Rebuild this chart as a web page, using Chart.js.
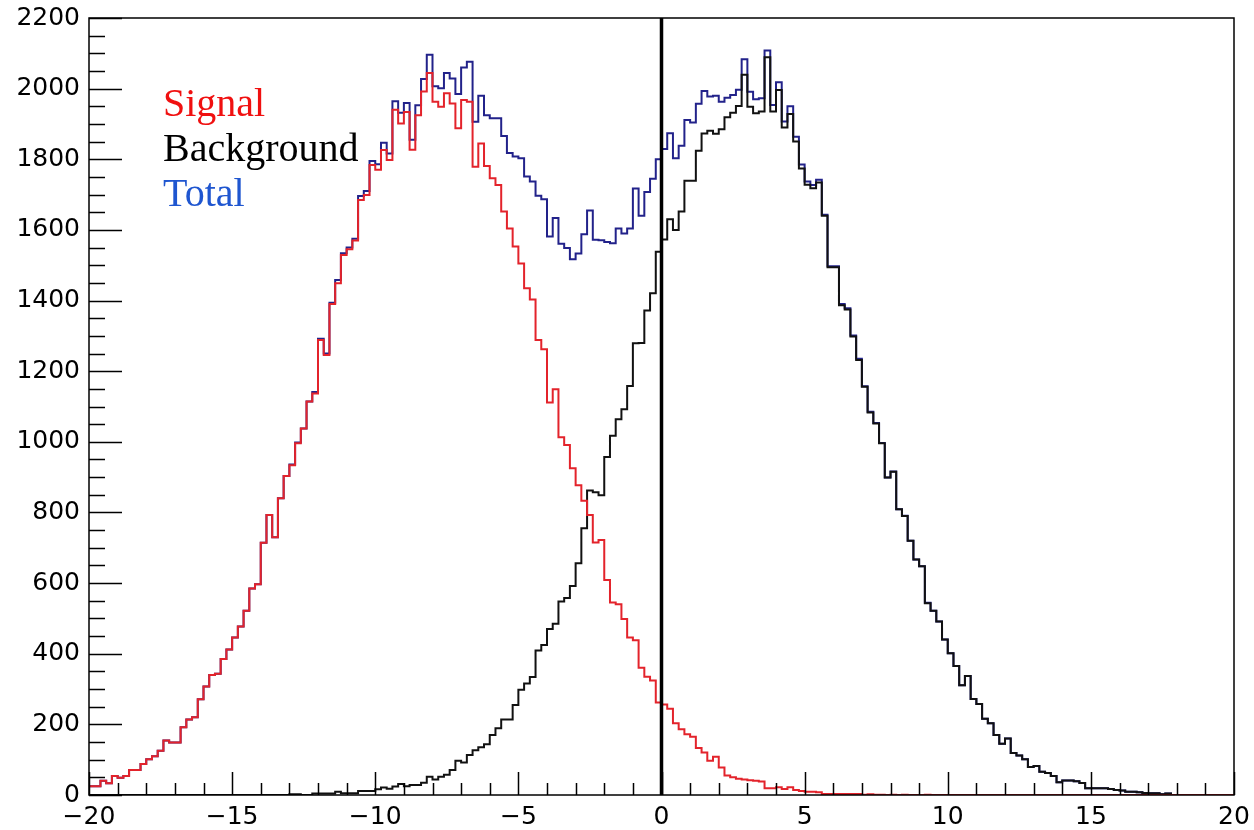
<!DOCTYPE html>
<html>
<head>
<meta charset="utf-8">
<script src="https://cdn.jsdelivr.net/npm/chart.js@4.4.0/dist/chart.umd.min.js"></script>
<style>
  html, body { margin: 0; padding: 0; background: #fff; }
</style>
</head>
<body>
<canvas id="hist" width="1254" height="830"></canvas>
<script>
// histogram binning: 200 bins of 0.2 over [-20, 20]
const xMin = -20;
const xMax = 20;
const nBins = 200;
const yMax = 2200;

// bin contents, left to right
const signalCounts = [
  25, 25, 40, 33, 54, 49, 54, 71, 71, 88,
  101, 110, 125, 154, 149, 149, 192, 214, 220, 271,
  307, 340, 343, 385, 412, 446, 477, 522, 585, 597,
  714, 793, 730, 840, 903, 934, 996, 1038, 1114, 1137,
  1288, 1246, 1390, 1449, 1529, 1545, 1570, 1685, 1699, 1784,
  1770, 1826, 1798, 1940, 1901, 1934, 1827, 1925, 1992, 2044,
  1963, 1949, 1987, 1958, 1888, 1968, 1963, 1779, 1845, 1781,
  1746, 1727, 1652, 1604, 1553, 1505, 1435, 1403, 1288, 1262,
  1111, 1149, 1013, 991, 925, 877, 833, 793, 715, 722,
  609, 545, 540, 498, 446, 438, 360, 335, 324, 262,
  256, 244, 203, 186, 172, 165, 133, 120, 97, 108,
  78, 55, 50, 46, 44, 42, 40, 38, 19, 19,
  22, 17, 22, 14, 11, 9, 9, 8, 3, 3,
  3, 3, 3, 3, 3, 1, 2, 1, 1, 0,
  1, 0, 1, 0, 0, 0, 1, 0, 0, 0,
  0, 0, 0, 0, 0, 0, 0, 0, 0, 0,
  0, 0, 0, 0, 0, 0, 0, 0, 0, 0,
  0, 0, 0, 0, 0, 0, 0, 0, 0, 0,
  0, 0, 0, 0, 0, 0, 0, 0, 0, 0,
  0, 0, 0, 0, 0, 0, 0, 0, 0, 0
];

const backgroundCounts = [
  0, 0, 0, 0, 0, 0, 0, 0, 0, 0,
  0, 0, 0, 0, 0, 0, 0, 0, 0, 0,
  0, 0, 0, 0, 0, 0, 0, 0, 0, 0,
  0, 0, 0, 0, 0, 2, 2, 0, 0, 4,
  4, 4, 4, 9, 5, 5, 5, 11, 11, 11,
  16, 21, 18, 24, 31, 25, 28, 28, 35, 52,
  44, 52, 57, 71, 97, 92, 113, 127, 135, 144,
  170, 189, 214, 214, 255, 298, 316, 334, 409, 425,
  470, 485, 548, 558, 592, 656, 755, 862, 857, 849,
  957, 1017, 1064, 1092, 1158, 1279, 1280, 1372, 1421, 1538,
  1573, 1630, 1600, 1652, 1739, 1739, 1824, 1873, 1881, 1872,
  1885, 1919, 1932, 1951, 2039, 1949, 1930, 1935, 2089, 1935,
  1996, 1890, 1928, 1850, 1774, 1728, 1718, 1734, 1640, 1494,
  1494, 1387, 1375, 1298, 1232, 1156, 1083, 1052, 996, 899,
  915, 809, 790, 720, 667, 648, 543, 522, 491, 440,
  401, 365, 311, 337, 272, 258, 216, 203, 170, 145,
  160, 119, 112, 101, 79, 82, 66, 62, 54, 36,
  41, 41, 39, 34, 19, 19, 19, 19, 17, 14,
  13, 9, 9, 8, 6, 5, 5, 2, 4, 0,
  0, 0, 0, 0, 0, 0, 0, 0, 0, 0
];

// Total is the bin-by-bin sum of both components
const totalCounts = signalCounts.map((v, i) => v + backgroundCounts[i]);

const legendLabels = ['Signal', 'Background', 'Total'];
const legendColors = ['#f01010', '#000000', '#1f56d0'];

const binWidth = (xMax - xMin) / nBins;

// points on the left edge of each bin, plus a closing point at xMax
function outline(counts) {
	const pts = counts.map((v, i) => ({ x: xMin + i * binWidth, y: v }));
	pts.push({ x: xMax, y: counts[counts.length - 1] });
	return pts;
}

const tickFont = { family: 'DejaVu Sans', size: 25 };

// ROOT-like frame: box, inward ticks, the cut line at x = 0 and the text legend
const rootFrame = {
	id: 'rootFrame',
	afterDatasetsDraw(chart) {
		const { ctx, chartArea: a, scales: { x, y } } = chart;
		ctx.save();

		// cut line
		const x0 = x.getPixelForValue(0);
		ctx.strokeStyle = '#000';
		ctx.lineWidth = 3.5;
		ctx.beginPath();
		ctx.moveTo(x0, a.bottom);
		ctx.lineTo(x0, a.top);
		ctx.stroke();

		// frame
		ctx.lineWidth = 1.5;
		ctx.strokeRect(a.left, a.top, a.right - a.left, a.bottom - a.top);

		// x ticks, major every 5, minor every 1
		ctx.beginPath();
		for (let v = xMin; v <= xMax; v += 1) {
			const px = Math.round(x.getPixelForValue(v)) + 0.5;
			const len = v % 5 === 0 ? 23 : 12;
			ctx.moveTo(px, a.bottom);
			ctx.lineTo(px, a.bottom - len);
		}
		// y ticks, major every 200, minor every 50
		for (let v = 0; v <= yMax; v += 50) {
			const py = Math.round(y.getPixelForValue(v)) + 0.5;
			const len = v % 200 === 0 ? 33 : 16;
			ctx.moveTo(a.left, py);
			ctx.lineTo(a.left + len, py);
		}
		ctx.stroke();

		// legend text
		ctx.font = '40px "Liberation Serif"';
		ctx.textBaseline = 'alphabetic';
		ctx.textAlign = 'left';
		legendLabels.forEach((label, i) => {
			ctx.fillStyle = legendColors[i];
			ctx.fillText(label, 163, 116 + i * 45);
		});

		ctx.restore();
	}
};

new Chart(document.getElementById('hist'), {
	type: 'line',
	data: {
		datasets: [
			{
				label: 'Signal',
				data: outline(signalCounts),
				borderColor: '#e3232b',
				borderWidth: 2,
			},
			{
				label: 'Background',
				data: outline(backgroundCounts),
				borderColor: '#111111',
				borderWidth: 2,
			},
			{
				label: 'Total',
				data: outline(totalCounts),
				borderColor: '#22228a',
				borderWidth: 2,
			}
		]
	},
	options: {
		responsive: false,
		animation: false,
		datasets: {
			line: {
				stepped: 'before',
				pointRadius: 0,
				fill: false,
				tension: 0,
			}
		},
		layout: {
			padding: { top: 18, right: 20, left: 0, bottom: 0 }
		},
		scales: {
			x: {
				type: 'linear',
				min: xMin,
				max: xMax,
				grid: { display: false, drawTicks: false },
				border: { display: false },
				ticks: {
					stepSize: 5,
					padding: 7,
					maxRotation: 0,
					color: '#000',
					font: tickFont,
					callback: (value) => String(value).replace('-', '\u2212'),
				},
				afterFit(scale) {
					scale.height = 35;
					scale.paddingLeft = 0;
					scale.paddingRight = 0;
				}
			},
			y: {
				min: 0,
				max: yMax,
				grid: { display: false, drawTicks: false },
				border: { display: false },
				ticks: {
					stepSize: 200,
					padding: 9,
					color: '#000',
					font: tickFont,
					callback: (value) => String(value),
				},
				afterFit(scale) {
					scale.width = 89;
					scale.paddingTop = 0;
					scale.paddingBottom = 0;
				}
			}
		},
		plugins: {
			legend: { display: false },
			tooltip: { enabled: false },
		}
	},
	plugins: [rootFrame]
});
</script>
</body>
</html>
